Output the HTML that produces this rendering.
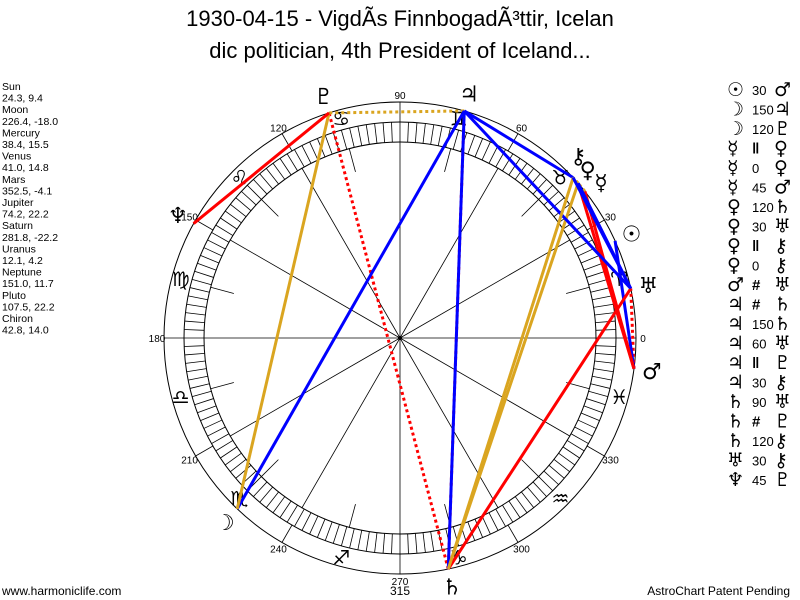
<!DOCTYPE html>
<html><head><meta charset="utf-8"><style>
html,body{margin:0;padding:0;background:#fff;width:800px;height:600px;overflow:hidden}
svg{display:block}
text{font-family:"Liberation Sans","DejaVu Sans",sans-serif}
.gy{font-family:"DejaVu Sans",sans-serif;font-weight:bold}
</style></head><body>
<svg id="s" width="800" height="600" viewBox="0 0 800 600" xmlns="http://www.w3.org/2000/svg">
<text x="400" y="26" font-size="22" text-anchor="middle">1930-04-15  -  VigdÃs  FinnbogadÃ³ttir,  Icelan</text>
<text x="400" y="58" font-size="22" text-anchor="middle">dic politician, 4th President of Iceland...</text>
<text x="2" y="595" font-size="12">www.harmoniclife.com</text>
<text x="790" y="595" font-size="12" text-anchor="end">AstroChart Patent Pending</text>
<g id="g"></g>
</svg>
<script>
const NS="http://www.w3.org/2000/svg",g=document.getElementById('g');
function el(t,a,txt){const e=document.createElementNS(NS,t);for(const k in a)e.setAttribute(k,a[k]);if(txt!=null)e.textContent=txt;g.appendChild(e);return e;}
const cx=400,cy=338,R=236,r1=216,r2=196;
function P(a,r){const t=a*Math.PI/180;return [cx+r*Math.cos(t),cy-r*Math.sin(t)];}
el('circle',{cx,cy,r:R,fill:'none',stroke:'#000','stroke-width':1});
for(let a=0;a<360;a+=30){const p=P(a,R);el('line',{x1:cx,y1:cy,x2:p[0],y2:p[1],stroke:'#000','stroke-width':0.8});}
el('circle',{cx,cy,r:(r1+r2)/2,fill:'none',stroke:'#fff','stroke-width':r1-r2-1});
el('circle',{cx,cy,r:r1,fill:'none',stroke:'#000'});
el('circle',{cx,cy,r:r2,fill:'none',stroke:'#000'});
for(let a=0;a<360;a+=2.25){const p=P(a,r1),q=P(a,r2);el('line',{x1:p[0],y1:p[1],x2:q[0],y2:q[1],stroke:'#000','stroke-width':0.8});}
for(let a=15;a<360;a+=30){const p=P(a,r2),q=P(a,172);el('line',{x1:p[0],y1:p[1],x2:q[0],y2:q[1],stroke:'#000','stroke-width':0.8});}
el('circle',{cx,cy,r:2,fill:'#000'});
for(let a=0;a<360;a+=30){const p=P(a,243);el('text',{x:p[0],y:p[1]+4,'font-size':10,'text-anchor':'middle'},String(a));}
el('text',{x:400,y:595,'font-size':12,'text-anchor':'middle'},'315');
const signs='♈♉♊♋♌♍♎♏♐♑♒♓';
for(let i=0;i<12;i++){const p=P(i*30+15,227);el('text',{x:p[0],y:p[1]+7,'font-size':20,'text-anchor':'middle','class':'gy'},signs[i]);}
const pl={Su:24.3,Mo:226.4,Me:38.4,Ve:41.0,Ma:352.5,Ju:74.2,Sa:281.8,Ur:12.1,Ne:151.0,Pl:107.5,Ch:42.8};
const gl={Su:'☉',Mo:'☽',Me:'☿',Ve:'♀',Ma:'♂',Ju:'♃',Sa:'♄',Ur:'♅',Ne:'♆',Pl:'♇',Ch:'⚷'};
const C={30:'#0000ff',60:'#0000ff',150:'#0000ff',120:'#daa520',45:'#ff0000',90:'#ff0000'};
const asp=[['Su','Ma',30],['Mo','Ju',150],['Mo','Pl',120],['Me','Ma',45],['Ve','Ma',45],['Ve','Sa',120],['Ve','Ur',30],['Ju','Sa',150],['Ju','Ur',60],['Ju','Ch',30],['Sa','Ur',90],['Sa','Ch',120],['Ur','Ch',30],['Ne','Pl',45]];
const dots=[['Ma','Ur','#ff0000'],['Ju','Sa','#ff0000'],['Sa','Pl','#ff0000'],['Ju','Pl','#daa520'],['Me','Ve','#daa520'],['Ve','Ch','#daa520']];
for(const [a,b,c] of dots){const p=P(pl[a],R),q=P(pl[b],R);el('line',{x1:p[0],y1:p[1],x2:q[0],y2:q[1],stroke:c,'stroke-width':3,'stroke-dasharray':'3,3'});}
for(const [a,b,k] of asp){const p=P(pl[a],R),q=P(pl[b],R);el('line',{x1:p[0],y1:p[1],x2:q[0],y2:q[1],stroke:C[k],'stroke-width':3});}
for(const k in pl){let a=pl[k];const p=P(a,254);let dx=0,dy=0;if(k=='Ch'){dx=-8;dy=-10}if(k=='Me'){dx=2;dy=2}if(k=='Ve'){dx=-4;dy=-2}
el('text',{x:p[0]+dx,y:p[1]+8+dy,'font-size':22,'text-anchor':'middle','class':'gy'},gl[k]);}
const L=['Sun','24.3, 9.4','Moon','226.4, -18.0','Mercury','38.4, 15.5','Venus','41.0, 14.8','Mars','352.5, -4.1','Jupiter','74.2, 22.2','Saturn','281.8, -22.2','Uranus','12.1, 4.2','Neptune','151.0, 11.7','Pluto','107.5, 22.2','Chiron','42.8, 14.0'];
L.forEach((t,i)=>el('text',{x:2,y:90+i*11.6,'font-size':10.5},t));
const R2=[['Su','30','Ma'],['Mo','150','Ju'],['Mo','120','Pl'],['Me','‖','Ve'],['Me','0','Ve'],['Me','45','Ma'],['Ve','120','Sa'],['Ve','30','Ur'],['Ve','‖','Ch'],['Ve','0','Ch'],['Ma','#','Ur'],['Ju','#','Sa'],['Ju','150','Sa'],['Ju','60','Ur'],['Ju','‖','Pl'],['Ju','30','Ch'],['Sa','90','Ur'],['Sa','#','Pl'],['Sa','120','Ch'],['Ur','30','Ch'],['Ne','45','Pl']];
R2.forEach((r,i)=>{const y=96+i*19.5;el('text',{x:727,y,'font-size':19,'class':'gy'},gl[r[0]]);
el('text',{x:752,y:y-1,'font-size':r[1]=='‖'||r[1]=='#'?15:13,'font-weight':r[1]=='#'||r[1]=='‖'?'bold':'normal'},r[1]);
el('text',{x:774,y,'font-size':19,'class':'gy'},gl[r[2]]);});
</script>
</body></html>
